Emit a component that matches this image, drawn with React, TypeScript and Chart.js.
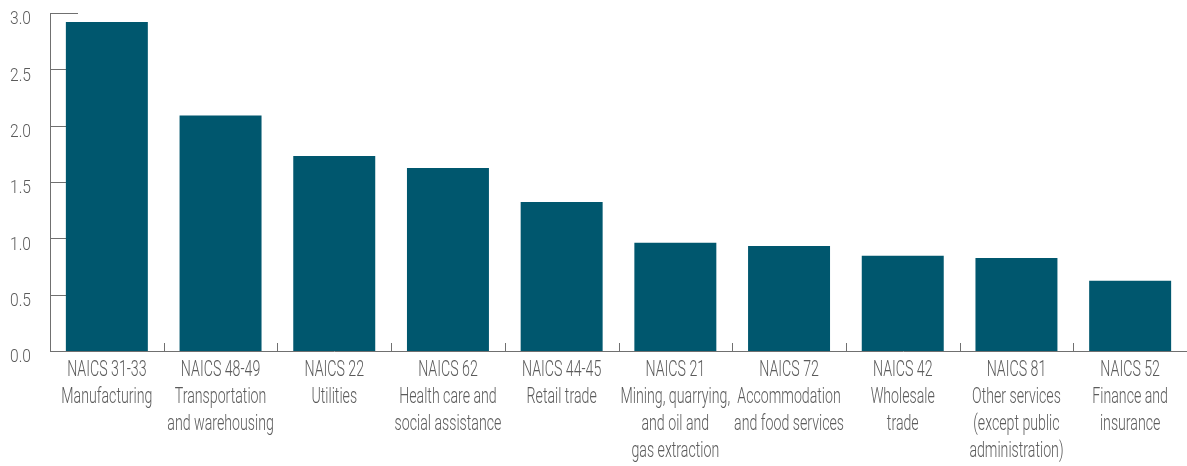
import React, { useEffect, useRef } from "react";
import { Chart, registerables } from "chart.js";

Chart.register(...registerables);

const categories: string[][] = [
  ["NAICS 31-33", "Manufacturing"],
  ["NAICS 48-49", "Transportation", "and warehousing"],
  ["NAICS 22", "Utilities"],
  ["NAICS 62", "Health care and", "social assistance"],
  ["NAICS 44-45", "Retail trade"],
  ["NAICS 21", "Mining, quarrying,", "and oil and", "gas extraction"],
  ["NAICS 72", "Accommodation", "and food services"],
  ["NAICS 42", "Wholesale", "trade"],
  ["NAICS 81", "Other services", "(except public", "administration)"],
  ["NAICS 52", "Finance and", "insurance"],
];

const values: number[] = [2.92, 2.09, 1.73, 1.625, 1.323, 0.96, 0.933, 0.845, 0.826, 0.624];

const yTicks: number[] = [0, 0.5, 1.0, 1.5, 2.0, 2.5, 3.0];

const TEXT = "#5b5b5b";
const AXIS = "#707070";
const BAR = "#00576e";
const FAMILY = "Roboto, 'Liberation Sans', sans-serif";
const WEIGHT = 300;
const X_SIZE = 22;
const Y_SIZE = 17.5;

// Condensed-type emulation: the reference uses a narrow face that is not installed,
// so tick text is drawn horizontally compressed (fillText maxWidth).
const condense = {
  id: "condense",
  beforeDraw(chart: any) {
    const ctx = chart.ctx as any;
    const m = document.createElement("canvas").getContext("2d") as CanvasRenderingContext2D;
    m.font = `normal ${WEIGHT} ${X_SIZE}px ${FAMILY}`;
    const fx = 91 / m.measureText("Manufacturing").width;
    m.font = `normal ${WEIGHT} ${Y_SIZE}px ${FAMILY}`;
    const fy = 21 / m.measureText("3.0").width;
    const orig = ctx.fillText;
    ctx.__origFill = orig;
    ctx.fillText = function (text: string, x: number, y: number, maxW?: number) {
      const f = this.font.indexOf(`${X_SIZE}px`) >= 0 ? fx : fy;
      const w = this.measureText(text).width * Math.min(1, f);
      return orig.call(this, text, x, y, maxW !== undefined ? Math.min(maxW, w) : w);
    };
  },
  afterDraw(chart: any) {
    const ctx = chart.ctx as any;
    if (ctx.__origFill) {
      ctx.fillText = ctx.__origFill;
      delete ctx.__origFill;
    }
  },
};

const innerTicks = {
  id: "innerTicks",
  beforeDatasetsDraw(chart: any) {
    const { ctx, chartArea, scales } = chart;
    const y = scales.y;
    const x = scales.x;
    ctx.save();
    ctx.strokeStyle = AXIS;
    ctx.lineWidth = 1;
    ctx.beginPath();
    for (const v of yTicks) {
      const py = Math.round(y.getPixelForValue(v)) + 0.5;
      ctx.moveTo(chartArea.left, py);
      ctx.lineTo(chartArea.left + 28, py);
    }
    for (let i = 0; i < categories.length; i++) {
      const px = Math.round((x.getPixelForValue(i) + x.getPixelForValue(i + 1)) / 2) + 0.5;
      ctx.moveTo(px, chartArea.bottom);
      ctx.lineTo(px, chartArea.bottom - 8);
    }
    ctx.stroke();
    ctx.restore();
  },
};

export default function App() {
  const ref = useRef<HTMLCanvasElement | null>(null);
  useEffect(() => {
    if (!ref.current) return;
    const chart = new Chart(ref.current, {
      type: "bar",
      data: {
        labels: categories,
        datasets: [
          {
            data: values,
            backgroundColor: BAR,
            barPercentage: 0.721,
            categoryPercentage: 1,
          },
        ],
      },
      options: {
        animation: false,
        responsive: false,
        maintainAspectRatio: false,
        layout: { padding: { top: 13, right: 0, bottom: 0, left: 0 } },
        plugins: { legend: { display: false }, tooltip: { enabled: false } },
        scales: {
          x: {
            grid: { display: false, drawTicks: false },
            border: { display: true, color: AXIS, width: 1 },
            ticks: {
              autoSkip: false,
              maxRotation: 0,
              minRotation: 0,
              padding: 6,
              color: TEXT,
              font: { family: FAMILY, weight: WEIGHT as any, size: X_SIZE, lineHeight: 27 / X_SIZE },
            },
            afterFit: (s: any) => {
              s.height = 115;
              s.paddingLeft = 0;
              s.paddingRight = 0;
            },
          },
          y: {
            min: 0,
            max: 3,
            grid: { display: false, drawTicks: false },
            border: { display: true, color: AXIS, width: 1 },
            ticks: {
              stepSize: 0.5,
              padding: 19,
              labelOffset: 7,
              color: TEXT,
              font: { family: FAMILY, weight: WEIGHT as any, size: Y_SIZE },
              callback: (v: any) => Number(v).toFixed(1),
            },
            afterFit: (s: any) => {
              s.width = 50;
              s.paddingTop = 0;
              s.paddingBottom = 0;
            },
          },
        },
      },
      plugins: [condense, innerTicks],
    });
    return () => chart.destroy();
  }, []);
  return (
    <div style={{ position: "absolute", left: 0, top: 0, width: 1187, height: 466, background: "#fff" }}>
      <canvas ref={ref} width={1187} height={466} style={{ display: "block" }} />
    </div>
  );
}
